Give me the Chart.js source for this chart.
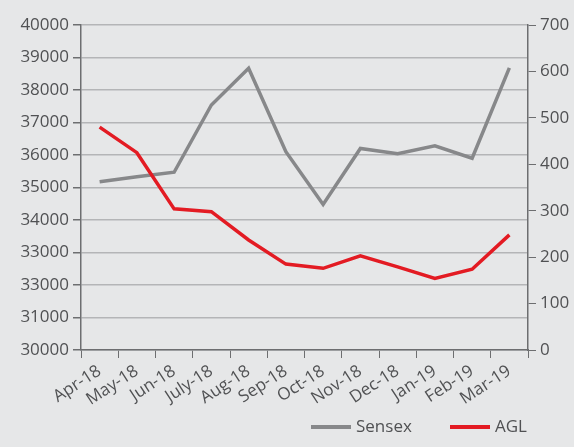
<!DOCTYPE html>
<html>
<head>
<meta charset="utf-8">
<script src="https://cdn.jsdelivr.net/npm/chart.js@4.4.1/dist/chart.umd.min.js"></script>
<style>
  html, body { margin: 0; padding: 0; background: #e6e7e8; }
  #wrap { width: 574px; height: 447px; }
</style>
</head>
<body>
<div id="wrap"><canvas id="chart" width="574" height="447"></canvas></div>
<script>
// Monthly Sensex (left axis) vs AGL share price (right axis)
const months = ['Apr-18', 'May-18', 'Jun-18', 'July-18', 'Aug-18', 'Sep-18',
  'Oct-18', 'Nov-18', 'Dec-18', 'Jan-19', 'Feb-19', 'Mar-19'];
const sensex = [35180, 35330, 35470, 37540, 38670, 36100, 34480, 36200, 36040, 36280, 35900, 38680];
const agl = [480, 425, 304, 298, 237, 185, 176, 203, 179, 154, 174, 248];

// tick labels as printed on the original (incl. the repeated 33000)
const leftTickLabels = ['30000', '31000', '33000', '33000', '34000', '35000',
  '36000', '37000', '38000', '39000', '40000'];
const rightTickLabels = ['0', '100', '200', '300', '400', '500', '600', '700'];

const BG = '#e6e7e8';
const TEXT = '#505153';
const AXIS = '#6d6e70';
const GRID = '#b4b5b7';
const GREY = '#87888a';
const RED = '#e31b23';
const FONT = "'Open Sans', 'Noto Sans', sans-serif";

Chart.defaults.font.family = FONT;
Chart.defaults.color = TEXT;

// fill the whole canvas with the panel colour
const background = {
  id: 'background',
  beforeDraw(chart) {
    const c = chart.ctx;
    c.save();
    c.fillStyle = BG;
    c.fillRect(0, 0, chart.width, chart.height);
    c.restore();
  }
};

// simple line-sample legend, bottom right
const lineLegend = {
  id: 'lineLegend',
  afterDraw(chart) {
    const c = chart.ctx;
    const items = [chart.data.datasets[0], chart.data.datasets[1]];
    const starts = [311, 450];
    const y = 427;
    c.save();
    c.font = '17px ' + FONT;
    c.textBaseline = 'middle';
    c.textAlign = 'left';
    items.forEach((ds, i) => {
      c.fillStyle = ds.borderColor;
      c.fillRect(starts[i], y - 2, 40, 4);
      c.fillStyle = TEXT;
      c.fillText(ds.label, starts[i] + 45, y);
    });
    c.restore();
  }
};

new Chart(document.getElementById('chart'), {
  type: 'line',
  data: {
    labels: months,
    datasets: [
      {
        label: 'Sensex',
        data: sensex,
        yAxisID: 'y',
        borderColor: GREY,
        backgroundColor: GREY,
        borderWidth: 3.5,
        pointRadius: 0,
        tension: 0,
        order: 2
      },
      {
        label: 'AGL',
        data: agl,
        yAxisID: 'y1',
        borderColor: RED,
        backgroundColor: RED,
        borderWidth: 3.5,
        pointRadius: 0,
        tension: 0,
        order: 1
      }
    ]
  },
  options: {
    responsive: false,
    animation: false,
    layout: {
      padding: { top: 25, bottom: 37, left: 0, right: 0 }
    },
    plugins: {
      legend: { display: false },
      tooltip: { enabled: false }
    },
    scales: {
      x: {
        offset: true,
        grid: {
          offset: true,
          drawOnChartArea: false,
          drawTicks: true,
          tickLength: 8,
          tickColor: AXIS
        },
        border: { color: AXIS, width: 1.5 },
        ticks: {
          autoSkip: false,
          minRotation: 33,
          maxRotation: 33,
          padding: 3,
          color: TEXT,
          font: { size: 17 }
        },
        afterFit(scale) { scale.height = 60; }
      },
      y: {
        position: 'left',
        min: 30000,
        max: 40000,
        ticks: {
          stepSize: 1000,
          padding: 4,
          color: TEXT,
          font: { size: 17 },
          callback: (v, i) => leftTickLabels[i]
        },
        grid: {
          color: GRID,
          lineWidth: 1.5,
          tickLength: 8,
          tickColor: AXIS
        },
        border: { color: AXIS, width: 1.5 },
        afterFit(scale) { scale.width = 81; }
      },
      y1: {
        position: 'right',
        min: 0,
        max: 700,
        ticks: {
          stepSize: 100,
          padding: 4,
          color: TEXT,
          font: { size: 17 },
          callback: (v, i) => rightTickLabels[i]
        },
        grid: {
          drawOnChartArea: false,
          tickLength: 8,
          tickColor: AXIS
        },
        border: { color: AXIS, width: 1.5 },
        afterFit(scale) { scale.width = 46; }
      }
    }
  },
  plugins: [background, lineLegend]
});
</script>
</body>
</html>
